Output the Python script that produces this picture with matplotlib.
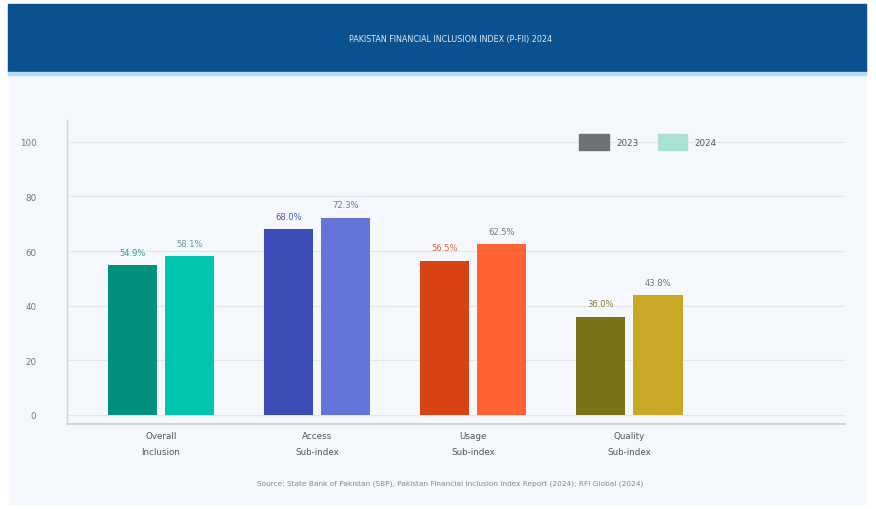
import matplotlib.pyplot as plt
import numpy as np
from matplotlib.patches import Rectangle, Patch

categories = ["Overall\nInclusion", "Access\nSub-index", "Usage\nSub-index", "Quality\nSub-index"]
vals_2023 = [54.9, 68.0, 56.5, 36.0]
vals_2024 = [58.1, 72.3, 62.5, 43.8]
labels_2023 = ["54.9%", "68.0%", "56.5%", "36.0%"]
labels_2024 = ["58.1%", "72.3%", "62.5%", "43.8%"]
colors_2023 = ["#00917c", "#3d4db7", "#d84315", "#7a7219"]
colors_2024 = ["#00c4ae", "#6574d8", "#ff6233", "#c9a825"]
label_colors_2023 = ["#2aa08e", "#4a5bb8", "#e0623a", "#8a8235"]
label_colors_2024 = ["#6a9a95", "#6a78b0", "#777777", "#777777"]
yticks = [0, 20, 40, 60, 80, 100]

W, H = 876, 510
fig = plt.figure(figsize=(W / 100, H / 100), dpi=100, facecolor="white")

# background panel and header band
fig.patches.append(Rectangle((9 / W, 1 - 505 / H), 857 / W, 430 / H,
                             transform=fig.transFigure, color="#f4f7fb", zorder=-2))
fig.patches.append(Rectangle((8 / W, 1 - 73 / H), 858 / W, 68 / H,
                             transform=fig.transFigure, color="#0a5190", zorder=-1))
fig.patches.append(Rectangle((8 / W, 1 - 76 / H), 858 / W, 3 / H,
                             transform=fig.transFigure, color="#b5dcf0", zorder=-1))
fig.text(450 / W, 1 - 40 / H, "PAKISTAN FINANCIAL INCLUSION INDEX (P-FII) 2024",
         color="#dfeaf6", fontsize=5.8, ha="center", va="center")

ax = fig.add_axes([67 / W, 1 - 425 / H, 778 / W, 304 / H])
ax.set_facecolor("none")
ax.set_zorder(2)

x = np.arange(len(categories))
width = 0.314
off = 0.183
b1 = ax.bar(x - off, vals_2023, width, color=colors_2023, zorder=3)
b2 = ax.bar(x + off, vals_2024, width, color=colors_2024, zorder=3)
for bars, labs, cols in ((b1, labels_2023, label_colors_2023), (b2, labels_2024, label_colors_2024)):
    for rect, lab, c in zip(bars, labs, cols):
        ax.text(rect.get_x() + rect.get_width() / 2, rect.get_height() + 3, lab,
                ha="center", va="bottom", fontsize=6, color=c)

ax.set_xlim(-0.6, 4.38)
ax.set_ylim(-3.3, 108)
ax.set_yticks(yticks)
ax.set_xticks(x)
ax.set_xticklabels(categories, fontsize=6.3, color="#555555", linespacing=2.0)
ax.tick_params(axis="y", length=0, pad=22, labelsize=6.3, labelcolor="#777777")
ax.tick_params(axis="x", length=0, pad=5)
for yv in yticks:
    ax.axhline(yv, color="#e3e6ea", lw=0.8, zorder=1)
for s in ("top", "right"):
    ax.spines[s].set_visible(False)
ax.spines["left"].set_color("#cfd3d8")
ax.spines["bottom"].set_color("#c8ccd1")
ax.spines["left"].set_linewidth(1)
ax.spines["bottom"].set_linewidth(1.2)

handles = [Patch(color="#707077", label="2023"), Patch(color="#a9e2d2", label="2024")]
fig.legend(handles=handles, loc="center", bbox_to_anchor=(648 / W, 1 - 143 / H), ncol=2,
           frameon=False, fontsize=6.3, handlelength=3.4, handleheight=2.3,
           columnspacing=2.2, handletextpad=0.8, labelcolor="#555555")

fig.text(450 / W, 1 - 484 / H,
         "Source: State Bank of Pakistan (SBP), Pakistan Financial Inclusion Index Report (2024); RFI Global (2024)",
         fontsize=5.3, color="#888888", ha="center", va="center")

fig.savefig("out.png", dpi=100, facecolor="white")
